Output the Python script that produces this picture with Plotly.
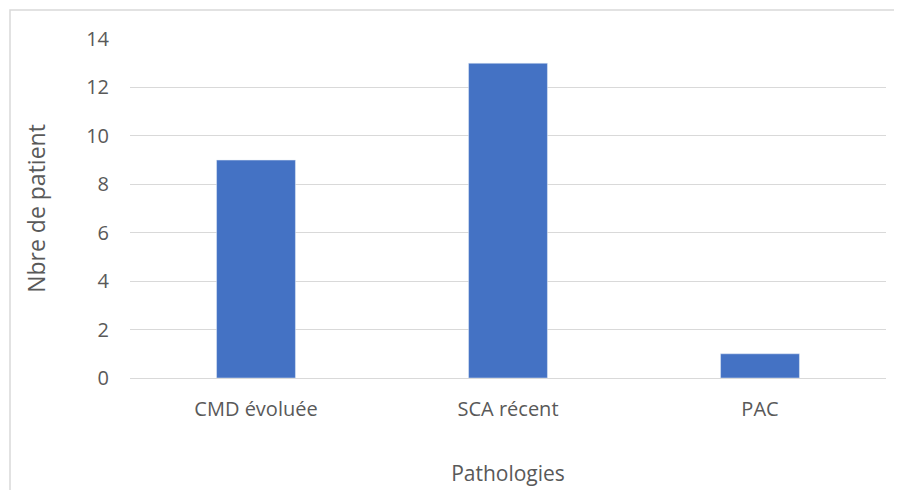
import plotly.graph_objects as go

categories = ["CMD évoluée", "SCA récent", "PAC"]
values = [9, 13, 1]
y_ticks = [0, 2, 4, 6, 8, 10, 12, 14]

OFF = 8  # page body margin
W, H = 902, 490
# target pixel positions in page
plot_left, plot_right, plot_top, plot_bottom = 130, 886, 39, 378
L = plot_left - OFF
T = plot_top - OFF
R = W - (plot_right - OFF)
B = H - (plot_bottom - OFF)
pw, ph = W - L - R, H - T - B

fig = go.Figure(go.Bar(x=categories, y=values, marker_color="#4472C4", width=0.313))

font = "Open Sans, DejaVu Sans, sans-serif"
fig.update_layout(
    width=W, height=H,
    margin=dict(l=L, r=R, t=T, b=B, pad=0),
    plot_bgcolor="white", paper_bgcolor="white",
    font=dict(family=font, color="#595959", size=20),
    showlegend=False,
)
fig.update_yaxes(range=[0, 14], tickvals=y_ticks, showgrid=True, gridcolor="#d9d9d9", gridwidth=1,
                 zeroline=False, showline=False, ticklabelstandoff=20,
                 title=dict(text="Nbre de patient", font=dict(size=23, color="#595959"), standoff=34))
fig.update_xaxes(showgrid=False, showline=True, linecolor="#d9d9d9", linewidth=1, ticklabelstandoff=13,
                 title=dict(text="Pathologies", font=dict(size=21, color="#595959"), standoff=45))

bx0, by0 = 10 - OFF, 10 - OFF
fig.add_shape(type="rect", xref="paper", yref="paper",
              x0=(bx0 - L) / pw, x1=(W + 5 - L) / pw,
              y0=(H - B - (H + 5)) / ph, y1=(H - B - by0) / ph,
              line=dict(color="#d9d9d9", width=1.5), fillcolor="rgba(0,0,0,0)", layer="below")

fig.write_html("out.html")
